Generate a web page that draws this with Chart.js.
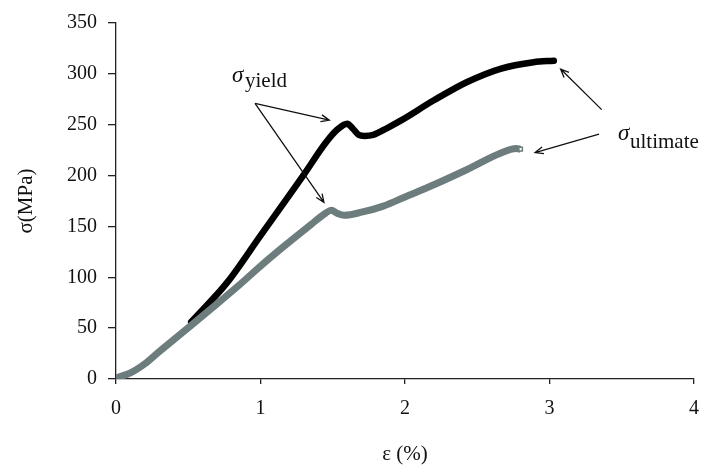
<!DOCTYPE html>
<html>
<head>
<meta charset="utf-8">
<script src="https://cdn.jsdelivr.net/npm/chart.js@4"></script>
<style>
  html, body { margin: 0; padding: 0; background: #fff; }
  #c { display: block; }
</style>
</head>
<body>
<canvas id="c" width="715" height="472"></canvas>
<script>
// strain (%) / stress (MPa)
const grayStrain  = [0, 0.1, 0.2, 0.3, 0.42, 0.54, 0.7, 0.85, 1.0, 1.15, 1.35, 1.45, 1.49, 1.53, 1.58, 1.7, 1.85, 2.0, 2.2, 2.43, 2.66, 2.77, 2.8];
const grayStress  = [1, 6, 15, 27, 41, 55, 74, 92, 111, 129, 152, 163, 166, 163, 161, 164, 170, 179, 191, 206, 222, 226.5, 226];
const blackStrain = [0.52, 0.77, 1.0, 1.3, 1.45, 1.53, 1.6, 1.64, 1.68, 1.72, 1.78, 1.88, 1.97, 2.2, 2.43, 2.66, 2.89, 3.03];
const blackStress = [56, 95, 141, 201, 232, 245, 251, 246, 240, 239, 240, 247, 254, 274, 292, 305, 311.5, 313];
const xTicks = [0, 1, 2, 3, 4];
const yTicks = [0, 50, 100, 150, 200, 250, 300, 350];

// annotation arrows in data units: [fromX, fromY, toX, toY]
const arrows = [
  [0.962, 271, 1.476, 254.5],
  [0.962, 271, 1.439, 173.7],
  [3.361, 264.8, 3.077, 304.7],
  [3.343, 240.8, 2.90, 222.6]
];

const SERIF = "'Liberation Serif', 'DejaVu Serif', serif";
const GRAY = '#6d7c7c';

const toPts = (xs, ys) => xs.map((x, i) => ({ x, y: ys[i] }));

const annotate = {
  id: 'annotate',
  afterDatasetsDraw(chart) {
    const { ctx, scales: { x, y } } = chart;
    ctx.save();
    ctx.strokeStyle = '#111';
    ctx.lineWidth = 1.3;
    arrows.forEach(a => {
      const x0 = x.getPixelForValue(a[0]), y0 = y.getPixelForValue(a[1]);
      const x1 = x.getPixelForValue(a[2]), y1 = y.getPixelForValue(a[3]);
      const ang = Math.atan2(y1 - y0, x1 - x0), h = 9;
      ctx.beginPath();
      ctx.moveTo(x0, y0); ctx.lineTo(x1, y1);
      ctx.moveTo(x1 - h * Math.cos(ang - 0.4), y1 - h * Math.sin(ang - 0.4));
      ctx.lineTo(x1, y1);
      ctx.lineTo(x1 - h * Math.cos(ang + 0.4), y1 - h * Math.sin(ang + 0.4));
      ctx.stroke();
    });
    ctx.fillStyle = '#111';
    ctx.textBaseline = 'alphabetic';
    ctx.textAlign = 'left';
    ctx.font = `italic 23px ${SERIF}`;
    ctx.fillText('σ', 232, 82);
    ctx.fillText('σ', 618, 140);
    ctx.font = `21px ${SERIF}`;
    ctx.fillText('yield', 245, 87);
    ctx.fillText('ultimate', 630, 148);
    ctx.restore();
  }
};

const axisLine = { display: true, color: '#222', width: 1.3 };
const tickFont = { family: SERIF, size: 20 };

new Chart(document.getElementById('c'), {
  type: 'line',
  data: {
    datasets: [
      { data: toPts(grayStrain, grayStress), borderColor: GRAY, borderWidth: 7,
        pointRadius: grayStrain.map((_, i) => i === grayStrain.length - 1 ? 2.5 : 0),
        pointStyle: 'rect', pointBackgroundColor: '#fff', pointBorderColor: GRAY, pointBorderWidth: 1.5,
        cubicInterpolationMode: 'monotone', borderCapStyle: 'butt' },
      { data: toPts(blackStrain, blackStress), borderColor: '#000', borderWidth: 6.5, pointRadius: 0,
        cubicInterpolationMode: 'monotone', borderCapStyle: 'round' }
    ]
  },
  options: {
    responsive: false, animation: false, devicePixelRatio: 1,
    layout: { padding: { left: 0, top: 15, right: 21, bottom: 0 } },
    plugins: { legend: { display: false }, tooltip: { enabled: false } },
    scales: {
      x: {
        type: 'linear', min: 0, max: 4,
        afterBuildTicks: s => { s.ticks = xTicks.map(v => ({ value: v })); },
        afterFit: s => { s.height = 93; },
        border: axisLine,
        grid: { drawOnChartArea: false, drawTicks: true, tickLength: 5, color: '#222', lineWidth: 1.3 },
        ticks: { font: tickFont, color: '#111', padding: 13, maxRotation: 0 },
        title: { display: true, text: 'ε (%)', font: { family: SERIF, size: 21 }, color: '#111',
          padding: { top: 0, bottom: 5 } }
      },
      y: {
        min: 0, max: 350,
        afterBuildTicks: s => { s.ticks = yTicks.map(v => ({ value: v })); },
        afterFit: s => { s.width = 116; },
        border: axisLine,
        grid: { drawOnChartArea: false, drawTicks: true, tickLength: 8, color: '#222', lineWidth: 1.3 },
        ticks: { font: tickFont, color: '#111', padding: 11 },
        title: { display: true, text: 'σ(MPa)', font: { family: SERIF, size: 21 }, color: '#111',
          padding: { top: 14, bottom: 0 } }
      }
    }
  },
  plugins: [annotate]
});
</script>
</body>
</html>
